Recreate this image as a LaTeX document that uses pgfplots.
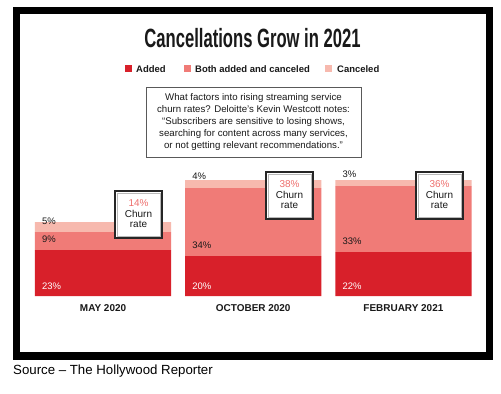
\documentclass[border=0pt]{standalone}
\usepackage{fontspec}
\setmainfont{Liberation Sans}
\newfontfamily\titlefont[FakeStretch=0.63]{Liberation Sans}
\usepackage{pgfplots}
\pgfplotsset{compat=1.18}
\definecolor{addedc}{RGB}{216,32,42}
\definecolor{bothc}{RGB}{240,123,119}
\definecolor{cancc}{RGB}{247,185,174}
\definecolor{churnc}{RGB}{238,110,108}
\definecolor{txt}{RGB}{25,25,25}
\begin{document}
\begin{tikzpicture}[x=1bp,y=1bp]
\path[use as bounding box] (0,0) rectangle (501,393);
\fill[white] (0,0) rectangle (501,393);
\fill[black] (13,33) rectangle (493,386);
\fill[white] (20,41) rectangle (486,379);
\node[anchor=base, inner sep=0, text=txt, font=\titlefont\bfseries\fontsize{26.5}{30}\selectfont] at (252.5,346) {Cancellations Grow in 2021};
% legend
\fill[addedc] (125,321.5) rectangle (132,328.5);
\node[anchor=base west, inner sep=0, text=txt, font=\bfseries\fontsize{9.5}{12}\selectfont] at (136,321) {Added};
\fill[bothc] (184,321.5) rectangle (191,328.5);
\node[anchor=base west, inner sep=0, text=txt, font=\bfseries\fontsize{9.5}{12}\selectfont] at (195,321) {Both added and canceled};
\fill[cancc] (325,321.5) rectangle (332,328.5);
\node[anchor=base west, inner sep=0, text=txt, font=\bfseries\fontsize{9.5}{12}\selectfont] at (337,321) {Canceled};
% quote box
\draw[gray!70!black, line width=0.9bp] (146,236) rectangle (361,306);
\node[align=center, inner sep=0, text=txt, font=\fontsize{9.7}{11.8}\selectfont] at (253.5,271) {What factors into rising streaming service\\churn rates? Deloitte’s Kevin Westcott notes:\\“Subscribers are sensitive to losing shows,\\searching for content across many services,\\or not getting relevant recommendations.”};
\begin{axis}[at={(35bp,97bp)}, anchor=south west, scale only axis,
  width=437bp, height=120bp,
  xmin=-0.4533, xmax=2.4567, ymin=0, ymax=60,
  ybar stacked, bar width=0.9067,
  axis line style={draw=none},
  xtick={0,1,2}, xticklabels={MAY 2020, OCTOBER 2020, FEBRUARY 2021},
  ytick=\empty, major tick length=0,
  xticklabel style={text=txt, font=\bfseries\fontsize{10}{12}\selectfont, yshift=-5bp},
  clip=false]
\addplot[fill=addedc, draw=none] coordinates {(0,23) (1,20) (2,22)};
\addplot[fill=bothc, draw=none] coordinates {(0,9) (1,34) (2,33)};
\addplot[fill=cancc, draw=none] coordinates {(0,5) (1,4) (2,3)};
\coordinate (a1) at (axis cs:-0.4067,5);
\coordinate (a2) at (axis cs:0.5933,5);
\coordinate (a3) at (axis cs:1.5933,5);
\coordinate (b1) at (axis cs:-0.4067,28.5);
\coordinate (b2) at (axis cs:0.5933,25.5);
\coordinate (b3) at (axis cs:1.5933,27.5);
\coordinate (c1) at (axis cs:-0.4067,37.5);
\coordinate (c2) at (axis cs:0.5933,60);
\coordinate (c3) at (axis cs:1.5933,61);
\end{axis}
\tikzset{lab/.style={anchor=west, inner sep=0, text=txt, font=\fontsize{9.5}{11}\selectfont}}
\node[lab, text=white] at (a1) {23\%};
\node[lab, text=white] at (a2) {20\%};
\node[lab, text=white] at (a3) {22\%};
\node[lab] at (b1) {9\%};
\node[lab] at (b2) {34\%};
\node[lab] at (b3) {33\%};
\node[lab] at (c1) {5\%};
\node[lab] at (c2) {4\%};
\node[lab] at (c3) {3\%};
\foreach \cx/\cy/\p in {138.5/178.5/14,289.5/197.5/38,439.5/197.5/36} {
  \fill[white] (\cx-23.5,\cy-23.5) rectangle (\cx+23.5,\cy+23.5);
  \draw[black!85, line width=1.4bp] (\cx-23.5,\cy-23.5) rectangle (\cx+23.5,\cy+23.5);
  \draw[gray!55, line width=0.8bp] (\cx-21.6,\cy-21.6) rectangle (\cx+21.6,\cy+21.6);
  \node[align=center, inner sep=0, text=txt, font=\fontsize{10}{10.5}\selectfont] at (\cx,\cy+0.5) {\textcolor{churnc}{\p\%}\\Churn\\rate};
}
\node[anchor=base west, inner sep=0, font=\fontsize{13.3}{15}\selectfont] at (13,19) {Source – The Hollywood Reporter};
\end{tikzpicture}
\end{document}
